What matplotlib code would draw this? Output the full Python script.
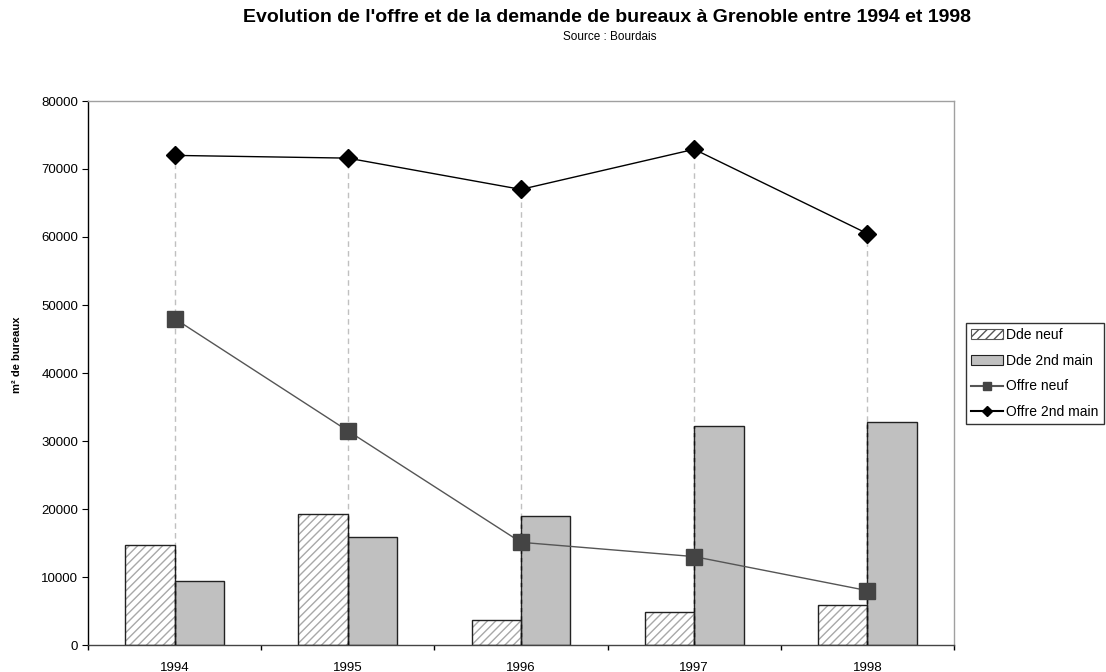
import numpy as np
import matplotlib
matplotlib.use('Agg')
import matplotlib.pyplot as plt
from matplotlib.patches import Patch
from matplotlib.lines import Line2D

plt.rcParams['font.family'] = ['Liberation Sans', 'DejaVu Sans']
plt.rcParams['hatch.linewidth'] = 1.0

# Data ----
years = ['1994', '1995', '1996', '1997', '1998']
dde_neuf = [14700, 19300, 3700, 4800, 5900]
dde_2nd_main = [9400, 15900, 19000, 32200, 32800]
offre_neuf = [48000, 31500, 15100, 13000, 8000]
offre_2nd_main = [72000, 71600, 67000, 72900, 60500]

x = np.arange(len(years))
w = 0.285

fig = plt.figure(figsize=(11.06, 6.72), dpi=100)
ax = fig.add_axes([88 / 1106, 27 / 672, 866 / 1106, 544 / 672])

# Drop lines from the top series down to the axis
ax.vlines(x, 0, offre_2nd_main, colors='#c0c0c0', linestyles=(0, (4, 3)), linewidth=1, zorder=1)

# Bars
ax.bar(x - w / 2, dde_neuf, w, color='white', edgecolor='#a8a8a8', linewidth=0, hatch='////', zorder=2)
ax.bar(x - w / 2, dde_neuf, w, fill=False, edgecolor='#222222', linewidth=1, zorder=3)
ax.bar(x + w / 2, dde_2nd_main, w, color='#c0c0c0', edgecolor='#222222', linewidth=1, zorder=2)

# Drop lines over the bars
ax.vlines(x, 0, np.maximum(dde_neuf, dde_2nd_main), colors='#111111', linestyles=(0, (3, 3)), linewidth=1, zorder=4)

# Lines
ax.plot(x, offre_neuf, color='#555555', linewidth=1, marker='s', markersize=11,
        markerfacecolor='#444444', markeredgecolor='#444444', zorder=5)
ax.plot(x, offre_2nd_main, color='black', linewidth=1, marker='D', markersize=9,
        markerfacecolor='black', markeredgecolor='black', zorder=5)

# Axes
ax.set_xlim(-0.5, 4.5)
ax.set_ylim(0, 80000)
ax.set_yticks(np.arange(0, 80001, 10000))
ax.set_xticks(x)
ax.set_xticklabels(years)
ax.set_xticks(np.arange(-0.5, 4.6, 1), minor=True)
ax.tick_params(axis='x', which='major', length=0, labelsize=9.5, pad=12)
ax.tick_params(axis='x', which='minor', length=3.5, direction='out', width=1)
ax.tick_params(axis='y', length=4, direction='out', labelsize=9.5, pad=3)
ax.spines['top'].set_color('#a0a0a0')
ax.spines['right'].set_color('#a0a0a0')
ax.spines['left'].set_color('black')
ax.spines['bottom'].set_color('#444444')
for s in ax.spines.values():
    s.set_linewidth(1)

fig.text(17 / 1106, 1 - 355 / 672, 'm² de bureaux', rotation=90, ha='center', va='center',
         fontsize=8, fontweight='bold')

# Titles
fig.text(607 / 1106, 1 - 18 / 672, "Evolution de l'offre et de la demande de bureaux à Grenoble entre 1994 et 1998",
         ha='center', va='center', fontsize=14, fontweight='bold')
fig.text(610 / 1106, 1 - 37 / 672, 'Source : Bourdais', ha='center', va='center', fontsize=8.5)

# Legend
handles = [
    Patch(facecolor='white', edgecolor='#555555', hatch='////', linewidth=0.8),
    Patch(facecolor='#c0c0c0', edgecolor='#222222', linewidth=0.8),
    Line2D([], [], color='#555555', marker='s', markersize=6, markerfacecolor='#444444', markeredgecolor='#444444'),
    Line2D([], [], color='black', marker='D', markersize=5, markerfacecolor='black'),
]
labels = ['Dde neuf', 'Dde 2nd main', 'Offre neuf', 'Offre 2nd main']
leg = fig.legend(handles, labels, loc='upper left', bbox_to_anchor=(966 / 1106, 1 - 323 / 672),
                 fontsize=10, frameon=True, fancybox=False, edgecolor='black', borderpad=0.35,
                 handlelength=2.3, handletextpad=0.25, labelspacing=0.85, borderaxespad=0)
leg.get_frame().set_linewidth(1)

fig.savefig('out.png', dpi=100)
